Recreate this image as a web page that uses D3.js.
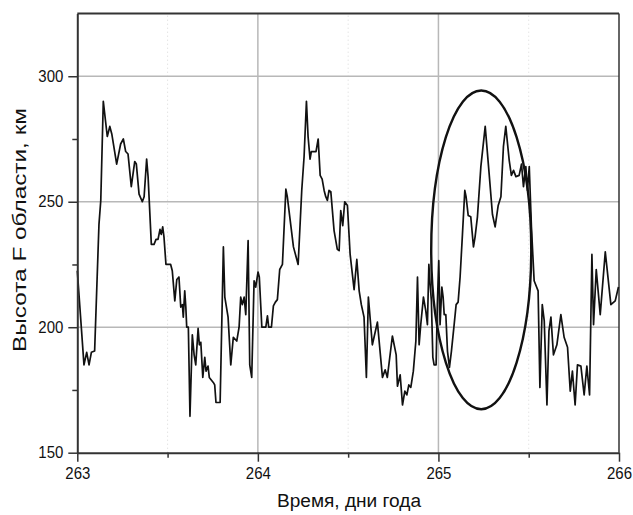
<!DOCTYPE html>
<html>
<head>
<meta charset="utf-8">
<script src="https://cdn.jsdelivr.net/npm/d3@7"></script>
<style>
body { margin: 0; background: #fff; }
text { font-family: "Liberation Sans", Arial, sans-serif; fill: #111; }
</style>
</head>
<body>
<div id="chart"></div>
<script>
// F-region height vs day of year.
const days = [
    263.000, 263.037, 263.052, 263.065, 263.078, 263.096, 263.120, 263.130, 263.144, 263.166,
    263.180, 263.191, 263.218, 263.240, 263.255, 263.268, 263.281, 263.299, 263.318, 263.327,
    263.342, 263.360, 263.370, 263.384, 263.392, 263.410, 263.425, 263.436, 263.447, 263.458,
    263.465, 263.473, 263.480, 263.491, 263.517, 263.526, 263.540, 263.551, 263.563, 263.573,
    263.582, 263.587, 263.595, 263.601, 263.606, 263.615, 263.624, 263.637, 263.647, 263.656,
    263.669, 263.676, 263.684, 263.695, 263.706, 263.713, 263.724, 263.731, 263.742, 263.753,
    263.761, 263.768, 263.791, 263.809, 263.817, 263.835, 263.850, 263.864, 263.883, 263.896,
    263.905, 263.914, 263.924, 263.933, 263.946, 263.955, 263.966, 263.979, 263.988, 264.001,
    264.008, 264.022, 264.044, 264.053, 264.060, 264.075, 264.086, 264.097, 264.108, 264.121,
    264.136, 264.155, 264.163, 264.197, 264.223, 264.243, 264.256, 264.269, 264.278, 264.289,
    264.296, 264.322, 264.334, 264.345, 264.356, 264.367, 264.376, 264.385, 264.394, 264.404,
    264.422, 264.440, 264.450, 264.459, 264.470, 264.481, 264.496, 264.511, 264.533, 264.548,
    264.561, 264.573, 264.588, 264.601, 264.612, 264.634, 264.662, 264.690, 264.705, 264.717,
    264.745, 264.766, 264.773, 264.788, 264.801, 264.814, 264.825, 264.836, 264.847, 264.861,
    264.875, 264.884, 264.893, 264.902, 264.917, 264.930, 264.939, 264.947, 264.954, 264.961,
    264.969, 264.976, 264.987, 264.994, 265.002, 265.009, 265.019, 265.026, 265.032, 265.041,
    265.050, 265.061, 265.072, 265.087, 265.098, 265.109, 265.120, 265.133, 265.146, 265.153,
    265.165, 265.179, 265.194, 265.203, 265.216, 265.235, 265.259, 265.281, 265.299, 265.314,
    265.331, 265.346, 265.360, 265.373, 265.392, 265.404, 265.416, 265.429, 265.447, 265.460,
    265.471, 265.484, 265.493, 265.503, 265.515, 265.530, 265.552, 265.562, 265.575, 265.586,
    265.601, 265.612, 265.623, 265.637, 265.656, 265.678, 265.696, 265.715, 265.730, 265.742,
    265.757, 265.770, 265.789, 265.807, 265.822, 265.837, 265.850, 265.859, 265.874, 265.896,
    265.924, 265.955, 265.979, 265.997
];
const heights = [
    222.5, 185, 190, 185, 190, 190.5, 241, 250.5, 290, 276,
    280, 277, 265, 273, 275, 270, 269, 256, 266, 265,
    253, 250, 252, 267, 260, 233, 233, 235, 235, 239,
    237, 240, 236, 225, 225, 222.5, 210.5, 219, 220, 208,
    209, 204, 214.5, 208, 200, 200, 164.5, 197, 189, 185,
    199.5, 193, 194, 180, 188, 182.5, 184.5, 180, 179, 178,
    177, 170, 170, 232, 212, 204, 185, 196, 194.5, 200,
    212, 209, 212, 205, 234.5, 185, 180, 218.5, 216, 222,
    220, 200, 200, 204.5, 200, 200, 208.5, 210, 211, 223,
    225, 255, 252, 232, 225, 254.5, 268, 290, 276, 267,
    270, 270, 275, 260.5, 259, 254.5, 252, 250.5, 254.5, 254,
    238.5, 231, 230.5, 246.5, 240.5, 250, 248.5, 229, 215, 227,
    214.5, 209, 204, 180, 212, 193, 202, 180, 183, 180,
    196.5, 189, 176.5, 181, 169, 174.5, 173, 177, 176, 182.5,
    194.5, 220, 193, 201, 212, 206.5, 201, 225, 217, 210.5,
    188, 185, 185, 209, 226.5, 201, 216, 212, 205, 205,
    190.5, 184, 190.5, 201, 209, 210, 220, 237, 254.5, 252,
    244.5, 244, 232, 236, 244, 264, 280, 261, 245, 240,
    248.5, 252, 272, 280, 266.5, 260.5, 262.5, 260, 260.5, 265,
    256, 264, 254.5, 264, 240, 218.5, 214.5, 176, 209, 202.5,
    169, 198.5, 204, 189, 193, 205, 196, 192, 174.5, 182.5,
    169, 185, 184.5, 173, 184.5, 173, 229, 201, 223, 205,
    230, 209, 210.5, 216
];

const xTicks = [263, 264, 265, 266];
const xMinor = [263.5, 264.5, 265.5];
const yTicks = [150, 200, 250, 300];
const yMinor = [175, 225, 275];

// Highlighted region: centre (day, km) and radii (days, km).
const ellipseCenter = [265.237, 230.8];
const ellipseRadius = [0.277, 63.5];

const width = 633,
      height = 515;

const svg = d3.select("#chart").append("svg")
    .attr("width", width)
    .attr("height", height);

const x = d3.scaleLinear([263, 266], [77.3, 619]);
const y = d3.scaleLinear([150, 325], [452.7, 13.5]);

// Grid.
const grid = svg.append("g");
grid.selectAll(".gx")
    .data(xTicks.slice(1, -1))
    .join("line")
        .attr("x1", d => x(d)).attr("x2", d => x(d))
        .attr("y1", y(150)).attr("y2", y(325))
        .attr("stroke", "#b8b8b8").attr("stroke-width", 1.5);
grid.selectAll(".gxm")
    .data(xMinor)
    .join("line")
        .attr("x1", d => x(d)).attr("x2", d => x(d))
        .attr("y1", y(150)).attr("y2", y(325))
        .attr("stroke", "#d8d8d8").attr("stroke-width", 1)
        .attr("stroke-dasharray", "1,3");
grid.selectAll(".gy")
    .data(yTicks.slice(1))
    .join("line")
        .attr("x1", x(263)).attr("x2", x(266))
        .attr("y1", d => y(d)).attr("y2", d => y(d))
        .attr("stroke", "#b8b8b8").attr("stroke-width", 1.5);

// Frame top/right.
svg.append("line")
    .attr("x1", x(263)).attr("x2", x(266))
    .attr("y1", y(325)).attr("y2", y(325))
    .attr("stroke", "#333").attr("stroke-width", 2);
svg.append("line")
    .attr("x1", x(266)).attr("x2", x(266))
    .attr("y1", y(325)).attr("y2", y(150))
    .attr("stroke", "#333").attr("stroke-width", 1.5);

// Data line.
const line = d3.line()
    .x(d => x(d[0]))
    .y(d => y(d[1]));
svg.append("path")
    .datum(d3.zip(days, heights))
    .attr("d", line)
    .attr("fill", "none")
    .attr("stroke", "#111")
    .attr("stroke-width", 1.7)
    .attr("stroke-linejoin", "round");

// Ellipse.
svg.append("ellipse")
    .attr("cx", x(ellipseCenter[0]))
    .attr("cy", y(ellipseCenter[1]))
    .attr("rx", x(ellipseCenter[0] + ellipseRadius[0]) - x(ellipseCenter[0]))
    .attr("ry", y(ellipseCenter[1]) - y(ellipseCenter[1] + ellipseRadius[1]))
    .attr("fill", "none")
    .attr("stroke", "#111")
    .attr("stroke-width", 2.4);

// Axes.
function styleAxis(g) {
    g.select(".domain").attr("stroke", "#333").attr("stroke-width", 2);
    g.selectAll(".tick line").attr("stroke", "#333").attr("stroke-width", 1.5);
    g.selectAll("text")
        .attr("font-size", 16)
        .attr("fill", "#111")
        .attr("textLength", 25)
        .attr("lengthAdjust", "spacingAndGlyphs");
}

svg.append("g")
    .attr("transform", `translate(0,${y(150)})`)
    .call(d3.axisBottom(x).tickValues(xMinor).tickSize(5).tickFormat(""))
    .call(g => g.select(".domain").remove())
    .call(g => g.selectAll("line").attr("stroke", "#333").attr("stroke-width", 1.5));
svg.append("g")
    .attr("transform", `translate(0,${y(150)})`)
    .call(d3.axisBottom(x).tickValues(xTicks).tickFormat(d3.format("d"))
        .tickSize(9).tickSizeOuter(0).tickPadding(6))
    .call(styleAxis);

svg.append("g")
    .attr("transform", `translate(${x(263)},0)`)
    .call(d3.axisLeft(y).tickValues(yMinor).tickSize(5).tickFormat(""))
    .call(g => g.select(".domain").remove())
    .call(g => g.selectAll("line").attr("stroke", "#333").attr("stroke-width", 1.5));
svg.append("g")
    .attr("transform", `translate(${x(263)},0)`)
    .call(d3.axisLeft(y).tickValues(yTicks).tickFormat(d3.format("d"))
        .tickSize(9).tickSizeOuter(0).tickPadding(5))
    .call(styleAxis);

// Axis titles.
svg.append("text")
    .attr("x", 349)
    .attr("y", 507)
    .attr("text-anchor", "middle")
    .attr("font-size", 18)
    .attr("textLength", 144)
    .attr("lengthAdjust", "spacingAndGlyphs")
    .text("Время, дни года");

svg.append("text")
    .attr("transform", "translate(26,230) rotate(-90)")
    .attr("text-anchor", "middle")
    .attr("font-size", 18)
    .attr("textLength", 244)
    .attr("lengthAdjust", "spacingAndGlyphs")
    .text("Высота F области, км");
</script>
</body>
</html>
